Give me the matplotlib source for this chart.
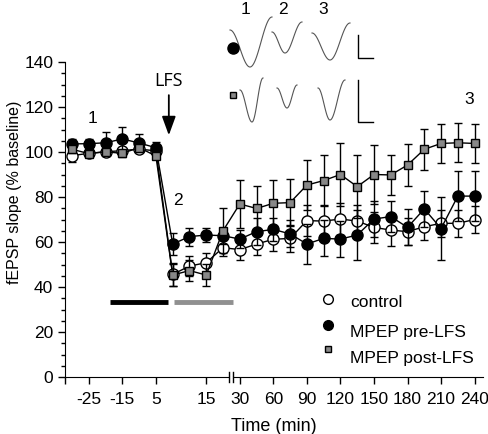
import numpy as np
import matplotlib
matplotlib.use('Agg')
import matplotlib.pyplot as plt

plt.rcParams['font.family'] = ['Liberation Sans', 'DejaVu Sans']

# x positions are sample indices (the axis is not linear in time)
idx = np.arange(25)
tick_pos = [1, 3, 5, 8, 10, 12, 14, 16, 18, 20, 22, 24]
tick_labels = ['-25', '-15', '5', '15', '30', '60', '90', '120', '150', '180', '210', '240']

control = [98.4, 99.4, 100.1, 100.6, 101.3, 100.5, 45.6, 49.3, 50.8, 57.5, 56.6, 59.1, 61.2,
           61.6, 69.5, 69.3, 70.2, 69.3, 66.5, 65.3, 64.6, 66.8, 68.3, 68.3, 70.0]
control_err = [2.7, 1.5, 1.5, 1.5, 1.5, 1.5, 5, 4.5, 4.5, 3.5, 4.5, 5, 5, 6, 7, 7, 7, 7, 7,
               7, 6, 6, 6, 6, 6]

pre = [103.6, 103.7, 104.1, 105.8, 104.0, 101.9, 59.1, 62.4, 63.1, 62.8, 61.3, 64.6, 65.6,
       63.6, 59.1, 61.6, 61.3, 63.1, 70.2, 71.3, 66.5, 74.7, 66.0, 80.4, 80.4]
pre_err = [2, 2, 5, 5.5, 4, 2.7, 5, 4, 3, 3.5, 4, 6, 5, 6, 9, 8, 8, 11, 8, 7, 8, 8, 14, 11, 11]

post = [101.2, 99.3, 100.1, 99.4, 102.0, 98.2, 45.3, 47.3, 45.3, 65.0, 76.9, 74.9, 77.2,
        77.5, 85.3, 87.3, 90.0, 84.6, 90.0, 89.8, 94.2, 101.2, 103.8, 104.1, 103.8]
post_err = [1.5, 1.5, 1.5, 1.5, 1.5, 1.5, 5, 4.5, 5, 10, 10.5, 10, 10.5, 10.3, 11, 11.4, 14,
            14, 13, 9, 9.4, 9, 8.6, 8.6, 8.6]

labels = ['control', 'MPEP pre-LFS', 'MPEP post-LFS']

# drug application bars (in index units) at y = 33.5
bar_pre = [2.25, 5.7]
bar_post = [6.1, 9.6]

fig = plt.figure(figsize=(4.88, 4.34), dpi=100)
ax = fig.add_axes([65 / 488, 57 / 434, 418 / 488, 315 / 434])

common = dict(capsize=3, ecolor='black', elinewidth=1, capthick=1, color='black', lw=1,
              markeredgecolor='black', markeredgewidth=1, clip_on=False)
ax.errorbar(idx, control, yerr=control_err, marker='o', ms=8, mfc='white', zorder=3, **common)
ax.errorbar(idx, pre, yerr=pre_err, marker='o', ms=8, mfc='black', zorder=4, **common)
ax.errorbar(idx, post, yerr=post_err, marker='s', ms=6, mfc='#888888', zorder=5, **common)

ax.plot(bar_pre, [33.5, 33.5], color='black', lw=3.5, solid_capstyle='butt')
ax.plot(bar_post, [33.5, 33.5], color='#909090', lw=3.5, solid_capstyle='butt')

ax.set_xlim(-0.42, 24.5)
ax.set_ylim(0, 140)
ax.spines['top'].set_visible(False)
ax.spines['right'].set_visible(False)
ax.set_xticks([-0.42] + tick_pos)
ax.set_xticklabels([''] + tick_labels, fontsize=12.5)
ax.set_yticks(np.arange(0, 141, 20))
ax.set_yticks(np.arange(0, 141, 5), minor=True)
ax.tick_params(axis='y', labelsize=12.5, length=5, width=1)
ax.tick_params(axis='y', which='minor', length=3, width=1)
ax.tick_params(axis='x', length=5, width=1, pad=6)
ax.set_xlabel('Time (min)', fontsize=13, labelpad=8)
ax.set_ylabel('fEPSP slope (% baseline)', fontsize=11.5)
ax.yaxis.set_label_coords(-0.102, 0.585)

# axis break marks
for dx in (-0.12, 0.12):
    ax.plot([9.5 + dx, 9.5 + dx], [-2.2, 2.2], color='black', lw=1, clip_on=False, zorder=6)
ax.plot([9.5 - 0.06, 9.5 + 0.06], [0, 0], color='white', lw=2, clip_on=False, zorder=5)

ax.text(1.2, 115, '1', fontsize=12.5, ha='center', va='center')
ax.text(6.3, 78.5, '2', fontsize=12.5, ha='center', va='center')
ax.text(23.7, 123.5, '3', fontsize=12.5, ha='center', va='center')
ax.text(5.77, 131.5, 'LFS', fontsize=13, ha='center', va='center', family='Open Sans')
ax.annotate('', xy=(5.77, 106.2), xytext=(5.77, 126.5),
            arrowprops=dict(arrowstyle='-|>,head_width=0.42,head_length=1.15',
                            color='black', lw=1.3))

# legend drawn by hand: markers sit a little above their labels
leg_marker_y = [0.248, 0.165, 0.089]
leg_text_y = [0.238, 0.140, 0.060]
styles = [dict(marker='o', ms=7, mfc='white'), dict(marker='o', ms=7, mfc='black'),
          dict(marker='s', ms=5, mfc='#888888')]
for my, ty, st, lab in zip(leg_marker_y, leg_text_y, styles, labels):
    ax.plot([0.629], [my], transform=ax.transAxes, ls='none', mec='black', clip_on=False, **st)
    ax.text(0.682, ty, lab, transform=ax.transAxes, fontsize=12.5, va='center')

# example traces drawn in pixel coordinates
ov = fig.add_axes([0, 0, 1, 1], facecolor='none')
ov.set_xlim(0, 488)
ov.set_ylim(434, 0)
ov.axis('off')


def trace(x0, xm, x1, y0, ym, y1):
    a = np.linspace(0, 1, 40)
    xa = x0 + (xm - x0) * a
    ya = y0 + (ym - y0) * (1 - np.cos(np.pi * a)) / 2
    xb = xm + (x1 - xm) * a
    yb = ym + (y1 - ym) * (1 - np.cos(np.pi * a)) / 2
    ov.plot(np.r_[xa, xb], np.r_[ya, yb], color='#555555', lw=0.8)


row1 = [(230, 250, 272, 30, 67, 17), (272, 285, 302, 32, 53, 22), (312, 330, 350, 33, 60, 23)]
row2 = [(240, 252, 263, 90, 122, 78), (277, 287, 297, 88, 108, 85), (318, 330, 345, 88, 120, 80)]
for t in row1 + row2:
    trace(*t)
ov.plot([358, 358, 373], [35, 58, 58], color='black', lw=1)
ov.plot([358, 358, 373], [80, 122, 122], color='black', lw=1)
ov.plot([233], [48], marker='o', ms=8, color='black')
ov.plot([233], [95], marker='s', ms=5, mfc='#888888', mec='black')
for x, s in zip([245, 283, 323], ['1', '2', '3']):
    ov.text(x, 10, s, fontsize=12.5, ha='center', va='center')

fig.savefig('out.png', dpi=100)
